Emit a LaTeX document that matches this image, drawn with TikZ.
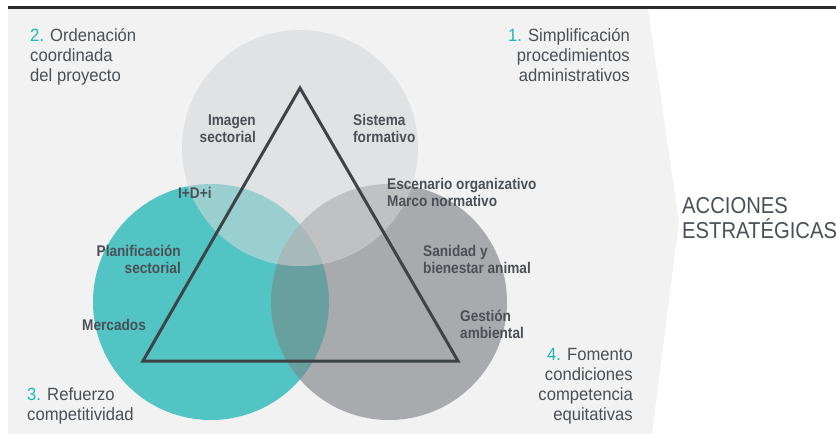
\documentclass[tikz,border=0pt]{standalone}
\usepackage{fontspec}
\setmainfont{Liberation Sans}[FakeStretch=0.88]
\newfontfamily\cornerfont{Liberation Sans}[FakeStretch=0.94]
\definecolor{panel}{HTML}{F2F2F2}
\definecolor{topline}{HTML}{2A2C2E}
\definecolor{txt}{HTML}{4A5055}
\definecolor{num}{HTML}{1BB7B7}
\definecolor{trin}{HTML}{3D4347}
\definecolor{cteal}{HTML}{52C4C4}
\definecolor{cgrey}{HTML}{A9AAAD}
\definecolor{ctop}{HTML}{E1E2E4}
\definecolor{cTL}{HTML}{9ACFCF}
\definecolor{cTR}{HTML}{BFC1C3}
\definecolor{cLR}{HTML}{68A0A0}
\definecolor{cTLR}{HTML}{A7B9B9}
\begin{document}
\begin{tikzpicture}[x=1pt,y=-1pt,
  lbl/.style={text=txt, inner sep=0pt, font=\bfseries\fontsize{15.5}{16.8}\selectfont},
  corner/.style={text=txt, inner sep=0pt, font=\cornerfont\fontsize{17.7}{20}\selectfont},
  big/.style={text=txt, inner sep=0pt, font=\fontsize{23}{25}\selectfont},
  tri/.style={draw=trin, line width=3pt, line join=miter}]
\useasboundingbox (0,0) rectangle (836,434);
\fill[panel] (8,9) -- (648,9) -- (679,222) -- (652,434) -- (8,434) -- cycle;
\draw[line width=3pt, topline] (8,7.5) -- (836,7.5);
\coordinate (cT) at (300,148);
\coordinate (cL) at (211,302);
\coordinate (cR) at (389,302);
\fill[cteal] (cL) circle[radius=118pt];
\fill[cgrey] (cR) circle[radius=118pt];
\fill[ctop] (cT) circle[radius=118pt];
\begin{scope}
  \clip (cL) circle[radius=118pt];
  \fill[cTL] (cT) circle[radius=118pt];
  \fill[cLR] (cR) circle[radius=118pt];
\end{scope}
\begin{scope}
  \clip (cR) circle[radius=118pt];
  \fill[cTR] (cT) circle[radius=118pt];
\end{scope}
\begin{scope}
  \clip (cL) circle[radius=118pt];
  \clip (cR) circle[radius=118pt];
  \fill[cTLR] (cT) circle[radius=118pt];
\end{scope}
\draw[tri] (300,88) -- (458,361) -- (143,361) -- cycle;
% corner texts (base anchor = baseline of last line)
\node[corner, anchor=base west, align=left] (t2) at (30,81.7) {\textcolor{num}{2.} Ordenación\\coordinada\\del proyecto};
\node[corner, anchor=base east, align=right] (t1) at (630,81.7) {\textcolor{num}{1.} Simplificación\\procedimientos\\administrativos};
\node[corner, anchor=base west, align=left] (t3) at (27,420) {\textcolor{num}{3.} Refuerzo\\competitividad};
\node[corner, anchor=base east, align=right] (t4) at (633,420) {\textcolor{num}{4.} Fomento\\condiciones\\competencia\\equitativas};
\node[big, anchor=base west, align=left] (acc) at (682,238) {ACCIONES\\ESTRATÉGICAS};
% labels
\node[lbl, anchor=base east, align=right] (l1) at (256,142) {Imagen\\sectorial};
\node[lbl, anchor=base west, align=left] (l2) at (353,142) {Sistema\\formativo};
\node[lbl, anchor=base west, align=left] (l3) at (178,198) {I+D+i};
\node[lbl, anchor=base west, align=left] (l4) at (387,206.7) {Escenario organizativo\\Marco normativo};
\node[lbl, anchor=base west, align=left] (l5) at (423,273) {Sanidad y\\bienestar animal};
\node[lbl, anchor=base west, align=left] (l6) at (460,338) {Gestión\\ambiental};
\node[lbl, anchor=base east, align=right] (l7) at (181,273) {Planificación\\sectorial};
\node[lbl, anchor=base west, align=left] (l8) at (82,330) {Mercados};
\end{tikzpicture}
\end{document}
